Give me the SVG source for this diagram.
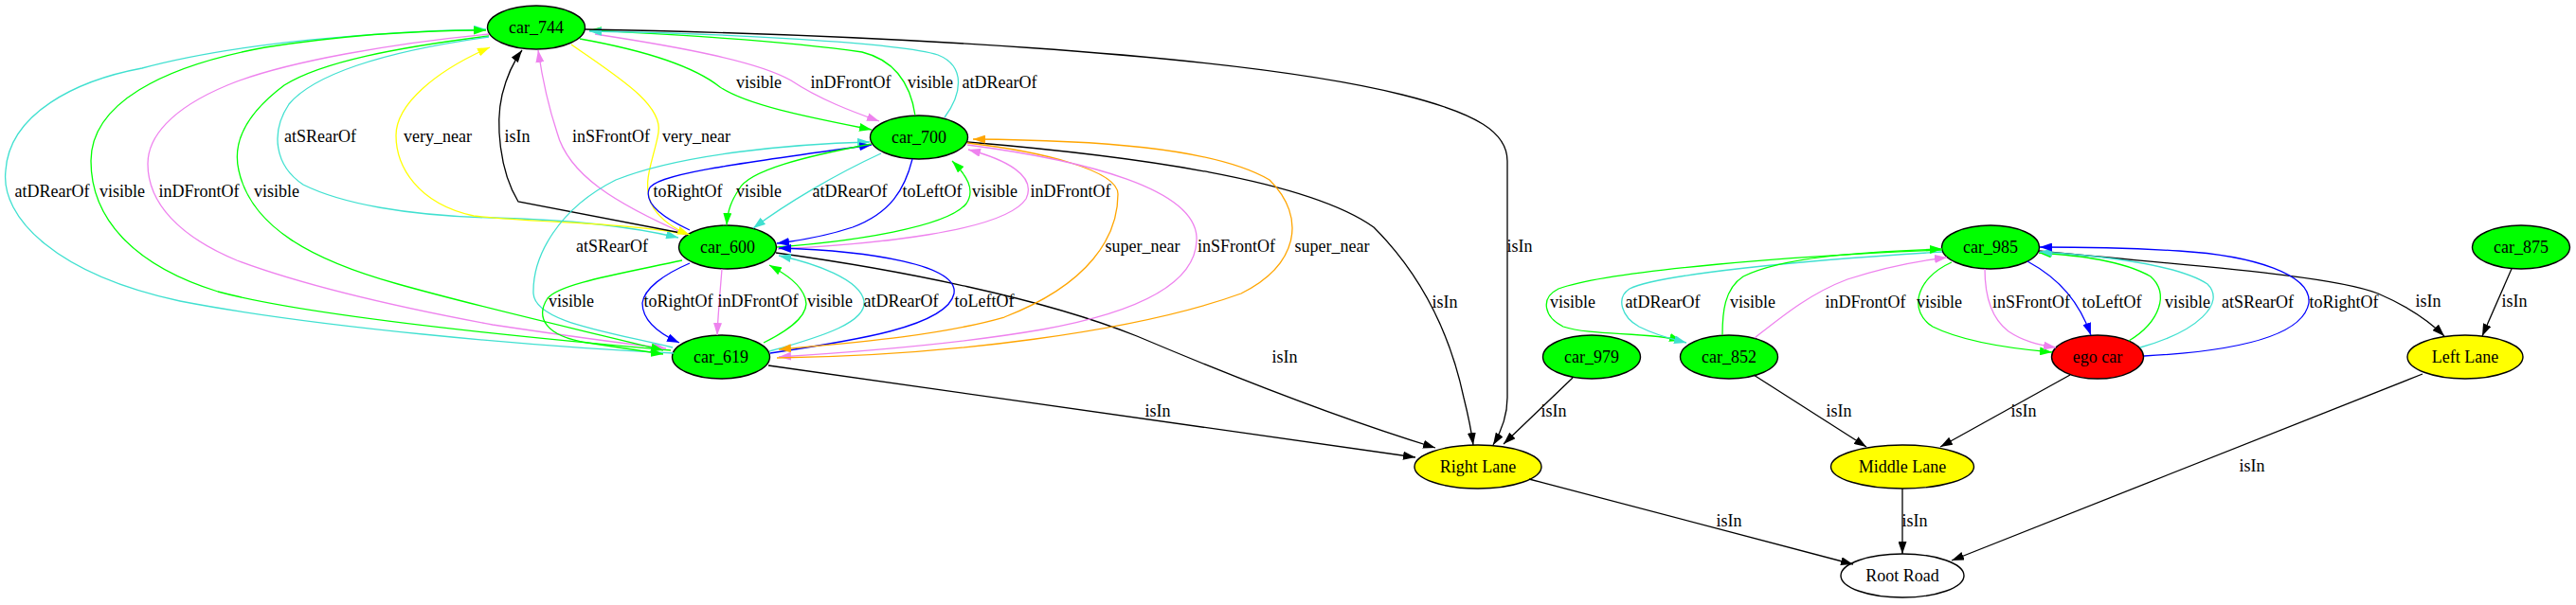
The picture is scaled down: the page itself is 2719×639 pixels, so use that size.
<svg xmlns="http://www.w3.org/2000/svg" width="2719" height="639" viewBox="0 0 2719 639">
<style>
text{font-family:"Liberation Serif","Times New Roman",serif;font-size:18px;text-anchor:middle;fill:#000}
.n{stroke:#000;stroke-width:1.4}
.e path{fill:none;stroke-width:1.3}
.k{stroke:#000;marker-end:url(#ak)}
.g{stroke:#00ff00;marker-end:url(#ag)}
.c{stroke:#40e0d0;marker-end:url(#ac)}
.v{stroke:#ee82ee;marker-end:url(#av)}
.y{stroke:#ffff00;marker-end:url(#ay)}
.b{stroke:#0000ff;marker-end:url(#ab)}
.o{stroke:#ffa500;marker-end:url(#ao)}
</style>
<defs>
<marker id="ak" markerUnits="userSpaceOnUse" markerWidth="13" markerHeight="9" refX="13" refY="4.5" orient="auto"><path d="M0,0L13,4.5L0,9z" fill="#000"/></marker>
<marker id="ag" markerUnits="userSpaceOnUse" markerWidth="13" markerHeight="9" refX="13" refY="4.5" orient="auto"><path d="M0,0L13,4.5L0,9z" fill="#00ff00"/></marker>
<marker id="ac" markerUnits="userSpaceOnUse" markerWidth="13" markerHeight="9" refX="13" refY="4.5" orient="auto"><path d="M0,0L13,4.5L0,9z" fill="#40e0d0"/></marker>
<marker id="av" markerUnits="userSpaceOnUse" markerWidth="13" markerHeight="9" refX="13" refY="4.5" orient="auto"><path d="M0,0L13,4.5L0,9z" fill="#ee82ee"/></marker>
<marker id="ay" markerUnits="userSpaceOnUse" markerWidth="13" markerHeight="9" refX="13" refY="4.5" orient="auto"><path d="M0,0L13,4.5L0,9z" fill="#ffff00"/></marker>
<marker id="ab" markerUnits="userSpaceOnUse" markerWidth="13" markerHeight="9" refX="13" refY="4.5" orient="auto"><path d="M0,0L13,4.5L0,9z" fill="#0000ff"/></marker>
<marker id="ao" markerUnits="userSpaceOnUse" markerWidth="13" markerHeight="9" refX="13" refY="4.5" orient="auto"><path d="M0,0L13,4.5L0,9z" fill="#ffa500"/></marker>
</defs>
<rect width="2719" height="639" fill="#fff"/>

<g id="car_744"><ellipse class="n" cx="566" cy="29" rx="51.5" ry="23" fill="#00ff00"/><text x="566" y="35">car_744</text></g>
<g id="car_700"><ellipse class="n" cx="970" cy="145" rx="51.5" ry="23" fill="#00ff00"/><text x="970" y="151">car_700</text></g>
<g id="car_600"><ellipse class="n" cx="768" cy="261" rx="51.5" ry="23" fill="#00ff00"/><text x="768" y="267">car_600</text></g>
<g id="car_619"><ellipse class="n" cx="761" cy="377" rx="51.5" ry="23" fill="#00ff00"/><text x="761" y="383">car_619</text></g>
<g id="car_985"><ellipse class="n" cx="2101" cy="261" rx="51.5" ry="23" fill="#00ff00"/><text x="2101" y="267">car_985</text></g>
<g id="car_875"><ellipse class="n" cx="2661" cy="261" rx="51.5" ry="23" fill="#00ff00"/><text x="2661" y="267">car_875</text></g>
<g id="car_979"><ellipse class="n" cx="1680" cy="377" rx="51.5" ry="23" fill="#00ff00"/><text x="1680" y="383">car_979</text></g>
<g id="car_852"><ellipse class="n" cx="1825" cy="377" rx="51.5" ry="23" fill="#00ff00"/><text x="1825" y="383">car_852</text></g>
<g id="ego_car"><ellipse class="n" cx="2214" cy="377" rx="48.5" ry="23" fill="#ff0000"/><text x="2214" y="383">ego car</text></g>
<g id="left_lane"><ellipse class="n" cx="2602" cy="377" rx="61" ry="23" fill="#ffff00"/><text x="2602" y="383">Left Lane</text></g>
<g id="right_lane"><ellipse class="n" cx="1560" cy="493" rx="67" ry="23" fill="#ffff00"/><text x="1560" y="499">Right Lane</text></g>
<g id="middle_lane"><ellipse class="n" cx="2008" cy="493" rx="75.5" ry="23" fill="#ffff00"/><text x="2008" y="499">Middle Lane</text></g>
<g id="root_road"><ellipse class="n" cx="2008" cy="608" rx="65" ry="23" fill="#fff"/><text x="2008" y="614">Root Road</text></g>

<g id="connectors" class="e">
<path class="c" d="M711,373 C560,366 330,345 190,318 C60,290 0,230 6,180 C10,120 80,85 150,72 C250,45 400,33 513,31"/>
<path class="g" d="M708,370 C560,357 330,335 230,308 C140,280 96,230 96,170 C96,110 170,70 280,50 C370,36 450,32 513,32"/>
<path class="v" d="M516,36 C420,45 300,65 240,90 C180,115 156,145 156,173 C156,215 190,250 250,275 C330,305 450,330 520,343 C600,355 660,363 703,368"/>
<path class="g" d="M516,38 C420,50 340,65 300,90 C260,120 245,150 252,180 C265,240 330,275 420,300 C520,328 620,350 700,370"/>
<path class="c" d="M516,39 C400,55 330,80 305,110 C285,140 290,175 320,195 C360,215 430,228 520,230 C600,232 670,240 716,251"/>
<path class="y" d="M722,247 C660,235 560,235 500,228 C440,215 418,175 418,143 C418,110 460,75 517,50"/>
<path class="k" d="M724,247 L547,213 C527,180 523,130 530,100 C535,80 542,65 551,53"/>
<path class="v" d="M725,248 C650,215 600,185 588,140 C578,110 572,80 568,53"/>
<path class="y" d="M603,47 C650,80 700,110 695,140 C690,170 675,195 690,220 C700,235 715,243 728,248"/>
<path class="g" d="M612,41 C690,55 735,72 760,92 C790,112 860,125 920,137"/>
<path class="v" d="M628,36 C720,50 800,65 835,85 C865,105 900,118 928,128"/>
<path class="g" d="M966,122 C962,95 950,65 910,55 C820,42 700,36 622,32"/>
<path class="c" d="M997,124 C1015,100 1020,70 990,58 C950,45 760,35 622,33"/>
<path class="k" d="M617,31 C900,36 1300,55 1480,100 C1560,120 1591,140 1591,170 L1591,420 C1591,440 1585,455 1576,470"/>
<path class="k" d="M1021,150 C1200,165 1380,190 1450,240 C1500,290 1530,350 1545,420 C1550,440 1553,455 1555,470"/>
<path class="k" d="M819,267 C950,285 1100,315 1200,355 C1330,410 1440,450 1515,473"/>
<path class="k" d="M811,386 L1494,483"/>
<path class="k" d="M1660,399 L1587,469"/>
<path class="k" d="M1614,506 L1956,596"/>
<path class="k" d="M1851,396 L1970,472"/>
<path class="k" d="M2185,396 L2048,472"/>
<path class="k" d="M2008,516 L2008,585"/>
<path class="k" d="M2557,395 L2060,592"/>
<path class="k" d="M2651,284 L2620,355"/>
<path class="k" d="M2152,265 C2300,280 2460,290 2510,310 C2545,325 2565,340 2580,355"/>
<path class="c" d="M710,367 C640,350 565,340 563,310 C562,270 590,220 650,190 C720,162 840,152 918,150"/>
<path class="b" d="M728,243 C700,230 680,215 685,200 C690,185 760,175 920,153"/>
<path class="g" d="M920,152 C850,165 790,180 780,200 C772,212 768,222 767,238"/>
<path class="c" d="M930,162 C880,185 830,215 795,241"/>
<path class="b" d="M963,168 C955,200 940,225 900,240 C870,250 845,254 820,257"/>
<path class="g" d="M820,261 C900,255 1000,240 1020,215 C1030,200 1020,185 1005,170"/>
<path class="v" d="M821,263 C920,258 1060,245 1083,210 C1095,185 1060,168 1022,158"/>
<path class="g" d="M720,275 C650,290 590,300 578,315 C565,335 575,355 620,362 C660,368 685,372 700,374"/>
<path class="b" d="M728,278 C700,290 680,305 678,320 C678,338 695,352 717,362"/>
<path class="v" d="M762,284 C760,310 758,330 757,354"/>
<path class="g" d="M806,362 C840,345 855,330 850,315 C845,300 830,290 812,280"/>
<path class="c" d="M812,371 C870,355 915,340 912,318 C908,295 860,278 822,270"/>
<path class="b" d="M813,373 C900,360 1000,345 1007,310 C1012,280 920,265 822,262"/>
<path class="o" d="M1021,151 C1100,160 1180,180 1180,205 C1180,250 1150,300 1060,335 C990,355 900,362 822,369"/>
<path class="v" d="M1021,153 C1150,170 1260,200 1263,250 C1265,300 1200,330 1100,348 C1020,362 900,372 822,377"/>
<path class="o" d="M820,378 C1000,376 1200,350 1310,310 C1370,280 1380,230 1340,190 C1280,155 1150,148 1027,147"/>
<path class="g" d="M2050,264 C1900,270 1700,285 1645,305 C1625,315 1630,335 1650,345 C1680,355 1740,350 1775,360"/>
<path class="c" d="M2050,266 C1900,275 1750,290 1720,305 C1705,315 1712,335 1730,345 C1750,355 1765,358 1780,362"/>
<path class="g" d="M1818,354 C1818,330 1820,305 1840,292 C1880,272 1960,266 2050,263"/>
<path class="v" d="M1852,357 C1880,335 1910,310 1950,295 C1990,282 2020,276 2055,272"/>
<path class="g" d="M2060,277 C2020,295 2015,330 2040,345 C2070,360 2120,368 2166,372"/>
<path class="v" d="M2095,284 C2095,310 2100,335 2120,350 C2135,360 2150,364 2170,367"/>
<path class="b" d="M2140,276 C2175,295 2195,320 2207,354"/>
<path class="g" d="M2247,360 C2280,340 2290,310 2270,292 C2240,275 2195,270 2152,267"/>
<path class="c" d="M2259,367 C2320,350 2350,320 2330,300 C2300,280 2220,270 2153,266"/>
<path class="b" d="M2263,376 C2340,372 2430,360 2437,320 C2440,290 2380,270 2300,265 C2250,262 2200,261 2153,261"/>

<text x="55" y="208">atDRearOf</text>
<text x="129" y="208">visible</text>
<text x="210" y="208">inDFrontOf</text>
<text x="292" y="208">visible</text>
<text x="338" y="150">atSRearOf</text>
<text x="462" y="150">very_near</text>
<text x="546" y="150">isIn</text>
<text x="645" y="150">inSFrontOf</text>
<text x="735" y="150">very_near</text>
<text x="801" y="93">visible</text>
<text x="898" y="93">inDFrontOf</text>
<text x="982" y="93">visible</text>
<text x="1055" y="93">atDRearOf</text>
<text x="726" y="208">toRightOf</text>
<text x="801" y="208">visible</text>
<text x="897" y="208">atDRearOf</text>
<text x="984" y="208">toLeftOf</text>
<text x="1050" y="208">visible</text>
<text x="1130" y="208">inDFrontOf</text>
<text x="646" y="266">atSRearOf</text>
<text x="1206" y="266">super_near</text>
<text x="1305" y="266">inSFrontOf</text>
<text x="1406" y="266">super_near</text>
<text x="1604" y="266">isIn</text>
<text x="1525" y="325">isIn</text>
<text x="603" y="324">visible</text>
<text x="716" y="324">toRightOf</text>
<text x="800" y="324">inDFrontOf</text>
<text x="876" y="324">visible</text>
<text x="951" y="324">atDRearOf</text>
<text x="1039" y="324">toLeftOf</text>
<text x="1356" y="383">isIn</text>
<text x="1222" y="440">isIn</text>
<text x="1640" y="440">isIn</text>
<text x="1660" y="325">visible</text>
<text x="1755" y="325">atDRearOf</text>
<text x="1850" y="325">visible</text>
<text x="1969" y="325">inDFrontOf</text>
<text x="2047" y="325">visible</text>
<text x="2144" y="325">inSFrontOf</text>
<text x="2229" y="325">toLeftOf</text>
<text x="2309" y="325">visible</text>
<text x="2383" y="325">atSRearOf</text>
<text x="2474" y="325">toRightOf</text>
<text x="2563" y="324">isIn</text>
<text x="2654" y="324">isIn</text>
<text x="1941" y="440">isIn</text>
<text x="2136" y="440">isIn</text>
<text x="1825" y="556">isIn</text>
<text x="2021" y="556">isIn</text>
<text x="2377" y="498">isIn</text>
</g>
</svg>
